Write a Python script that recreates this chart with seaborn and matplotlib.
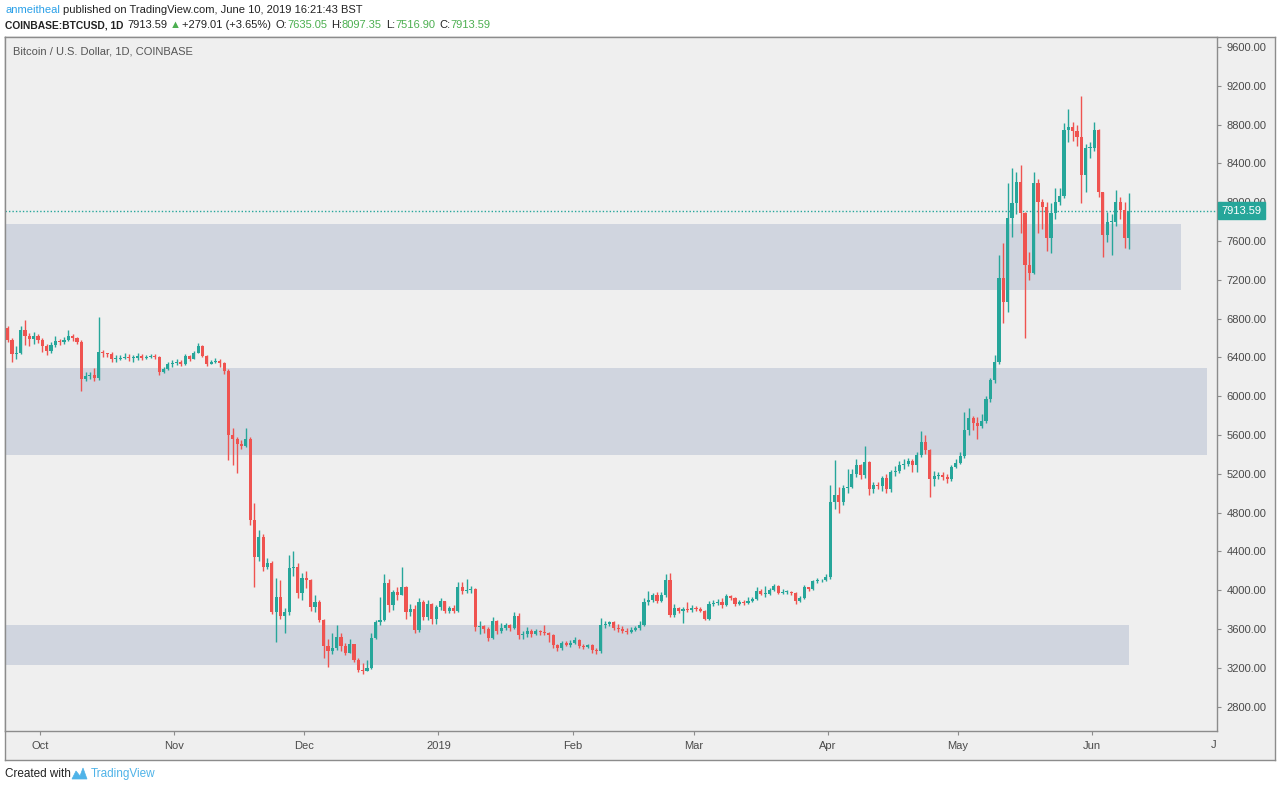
import matplotlib
matplotlib.use("Agg")
import matplotlib.pyplot as plt
import matplotlib.transforms as mtransforms
import numpy as np
import pandas as pd
import seaborn as sns

# COINBASE:BTCUSD daily candles, 23 Sep 2018 - 10 Jun 2019
first_open = 6710

sep_close = [6700, 6580, 6430, 6450, 6680, 6620, 6590, 6620]
sep_high = [6760, 6720, 6600, 6520, 6720, 6790, 6650, 6660]
sep_low = [6640, 6560, 6350, 6380, 6430, 6530, 6520, 6540]

oct_close = [6580, 6520, 6470, 6530, 6570, 6560, 6580, 6620, 6600, 6560, 6180, 6210, 6220, 6190, 6460, 6440,
             6430, 6380, 6380, 6390, 6400, 6390, 6390, 6410, 6390, 6400, 6410, 6400, 6250, 6280, 6330]
oct_high = [6640, 6600, 6540, 6560, 6620, 6590, 6610, 6680, 6640, 6610, 6580, 6250, 6250, 6290, 6820, 6480,
            6450, 6460, 6420, 6420, 6450, 6430, 6420, 6440, 6430, 6420, 6430, 6430, 6410, 6300, 6350]
oct_low = [6550, 6460, 6420, 6440, 6510, 6530, 6540, 6570, 6570, 6540, 6050, 6160, 6180, 6160, 6170, 6400,
           6400, 6350, 6350, 6370, 6380, 6360, 6350, 6370, 6370, 6380, 6390, 6380, 6220, 6240, 6270]

nov_close = [6340, 6350, 6330, 6410, 6380, 6450, 6520, 6410, 6330, 6350, 6360, 6340, 6260, 5600, 5560,
             5510, 5490, 5560, 4720, 4340, 4550, 4240, 4280, 3770, 3930, 3730, 3770, 4230, 4240, 3970]
nov_high = [6370, 6380, 6370, 6430, 6420, 6470, 6550, 6530, 6420, 6370, 6390, 6380, 6350, 6280, 5670,
            5580, 5550, 5670, 5580, 4900, 4620, 4580, 4330, 4300, 4130, 4100, 3820, 4360, 4400, 4280]
nov_low = [6300, 6320, 6310, 6320, 6360, 6380, 6450, 6400, 6310, 6330, 6340, 6300, 6230, 5340, 5290,
           5210, 5460, 5480, 4670, 4030, 4300, 4200, 4220, 3750, 3470, 3700, 3560, 3740, 4150, 3920]

dec_close = [4130, 4100, 3830, 3880, 3690, 3420, 3370, 3400, 3520, 3420, 3350, 3440, 3280, 3180, 3170, 3200,
             3510, 3670, 3690, 4070, 3850, 3980, 3950, 4030, 3780, 3810, 3590, 3880, 3720, 3860, 3700]
dec_high = [4180, 4200, 4110, 3950, 3900, 3700, 3500, 3560, 3640, 3560, 3460, 3500, 3450, 3300, 3250, 3280,
            3560, 3690, 3930, 4170, 4120, 4000, 4030, 4240, 4040, 3860, 3850, 3920, 3900, 3900, 3870]
dec_low = [3900, 4020, 3790, 3780, 3670, 3300, 3210, 3340, 3380, 3370, 3330, 3350, 3260, 3160, 3140, 3170,
           3190, 3500, 3640, 3680, 3780, 3800, 3900, 3950, 3700, 3730, 3560, 3570, 3690, 3690, 3650]

jan_close = [3830, 3890, 3790, 3820, 3790, 4030, 3990, 4000, 4010, 3620, 3630, 3600, 3510, 3680, 3580, 3610,
             3640, 3610, 3730, 3540, 3550, 3580, 3550, 3580, 3570, 3560, 3540, 3430, 3400, 3460, 3430]
jan_high = [3850, 3920, 3890, 3840, 3850, 4085, 4080, 4120, 4040, 4020, 3680, 3640, 3620, 3720, 3690, 3660,
            3660, 3650, 3770, 3760, 3580, 3620, 3600, 3600, 3590, 3640, 3570, 3550, 3440, 3480, 3480]
jan_low = [3650, 3800, 3760, 3760, 3760, 3770, 3960, 3970, 3970, 3580, 3550, 3560, 3480, 3500, 3550, 3560,
           3590, 3580, 3600, 3500, 3500, 3520, 3520, 3540, 3540, 3540, 3470, 3400, 3370, 3380, 3420]

feb_close = [3460, 3490, 3420, 3410, 3430, 3380, 3370, 3640, 3650, 3670, 3610, 3600, 3580, 3570, 3590, 3610,
             3640, 3880, 3900, 3950, 3890, 3950, 4100, 3740, 3820, 3790, 3810, 3800]
feb_high = [3490, 3520, 3500, 3440, 3450, 3450, 3400, 3710, 3680, 3680, 3680, 3650, 3630, 3610, 3620, 3630,
            3680, 3920, 3990, 3970, 3980, 3980, 4170, 4180, 3860, 3830, 3830, 3880]
feb_low = [3410, 3450, 3400, 3390, 3400, 3350, 3340, 3350, 3610, 3630, 3590, 3570, 3560, 3550, 3560, 3580,
           3590, 3630, 3850, 3880, 3870, 3880, 3930, 3720, 3720, 3760, 3660, 3770]

mar_close = [3820, 3810, 3790, 3700, 3860, 3870, 3880, 3850, 3940, 3920, 3860, 3880, 3870, 3890, 3910, 3990,
             3960, 3960, 4000, 4040, 3970, 3980, 3980, 3970, 3890, 3920, 4030, 4010, 4090, 4100, 4100]
mar_high = [3850, 3840, 3830, 3800, 3890, 3900, 3910, 3920, 3960, 3950, 3930, 3900, 3900, 3930, 3930, 4030,
            4010, 4040, 4020, 4060, 4050, 4010, 4000, 3990, 3980, 3940, 4050, 4030, 4100, 4130, 4120]
mar_low = [3780, 3790, 3770, 3690, 3690, 3840, 3850, 3820, 3840, 3900, 3840, 3850, 3850, 3860, 3880, 3900,
           3950, 3930, 3950, 3990, 3960, 3960, 3960, 3950, 3860, 3880, 3910, 3990, 4000, 4070, 4080]

apr_close = [4140, 4910, 4980, 4910, 5050, 5060, 5200, 5290, 5190, 5320, 5040, 5080, 5070, 5160, 5040,
             5220, 5230, 5290, 5300, 5330, 5290, 5390, 5530, 5440, 5150, 5180, 5190, 5170, 5150, 5270]
apr_high = [4170, 5080, 5340, 5060, 5080, 5250, 5250, 5350, 5300, 5490, 5330, 5120, 5120, 5180, 5200,
            5240, 5280, 5330, 5350, 5360, 5350, 5420, 5640, 5600, 5460, 5230, 5220, 5220, 5200, 5290]
apr_low = [4090, 4120, 4840, 4800, 4880, 5000, 5050, 5170, 5150, 5160, 4980, 5000, 5040, 5020, 5000,
           5010, 5180, 5210, 5250, 5280, 5220, 5220, 5370, 5400, 4960, 5070, 5150, 5140, 5100, 5130]

may_close = [5310, 5380, 5650, 5780, 5720, 5690, 5740, 5970, 6170, 6350, 7220, 6970, 7835, 7990, 8210, 7890,
             7350, 7270, 8200, 8000, 7950, 7630, 7890, 8000, 8060, 8740, 8770, 8730, 8670, 8280, 8560]
may_high = [5350, 5420, 5840, 5880, 5800, 5790, 5820, 6000, 6190, 6420, 7455, 7580, 8200, 8350, 8310, 8380,
            7900, 7490, 8310, 8240, 8030, 8000, 7990, 8150, 8150, 8820, 8960, 8830, 8800, 9095, 8600]
may_low = [5260, 5300, 5360, 5600, 5650, 5560, 5670, 5720, 5940, 6140, 6330, 6750, 6870, 7640, 7880, 7680,
           6600, 7200, 7260, 7680, 7720, 7500, 7480, 7830, 7970, 8040, 8620, 8630, 8580, 7990, 8100]

jun_close = [8560, 8740, 8110, 7660, 7800, 7800, 8000, 7920, 7635.05, 7913.59]
jun_high = [8620, 8830, 8750, 8110, 7900, 7880, 8130, 8050, 8000, 8097.35]
jun_low = [8460, 8530, 8050, 7435, 7590, 7455, 7750, 7830, 7530, 7516.90]

# shaded supply/demand zones: low, high, last day covered
zone_low = [7095, 5395, 3230]
zone_high = [7775, 6290, 3640]
zone_end = ["2019-06-22", "2019-06-28", "2019-06-10"]

month_labels = ["Oct", "Nov", "Dec", "2019", "Feb", "Mar", "Apr", "May", "Jun"]

UP = "#26a69a"
DOWN = "#ef5350"
BG = "#efefef"
ZONE = "#d0d5df"
FONT = ["Liberation Sans", "DejaVu Sans"]

closes = (sep_close + oct_close + nov_close + dec_close + jan_close + feb_close
          + mar_close + apr_close + may_close + jun_close)
highs = (sep_high + oct_high + nov_high + dec_high + jan_high + feb_high
         + mar_high + apr_high + may_high + jun_high)
lows = (sep_low + oct_low + nov_low + dec_low + jan_low + feb_low
        + mar_low + apr_low + may_low + jun_low)

origin = pd.Timestamp("2018-10-01")
df = pd.DataFrame({
    "date": pd.date_range("2018-09-23", "2019-06-10", freq="D"),
    "open": [first_open] + closes[:-1],
    "high": highs,
    "low": lows,
    "close": closes,
})
df["day"] = (df["date"] - origin).dt.days
df["up"] = df["close"] >= df["open"]
df["color"] = np.where(df["up"], UP, DOWN)
df["bottom"] = df[["open", "close"]].min(axis=1)
df["body"] = (df["close"] - df["open"]).abs().clip(lower=9)

sns.set_theme(style="white")
plt.rcParams["font.family"] = FONT

W, H = 1280, 790
fig = plt.figure(figsize=(W / 100, H / 100), dpi=100)
fig.patch.set_facecolor("white")


def px_rect(x0, y0, x1, y1):
    return [x0 / W, 1 - y1 / H, (x1 - x0) / W, (y1 - y0) / H]


# outer frame incl. price and time scales
frame = fig.add_axes(px_rect(5, 37, 1275, 760))
frame.set_facecolor(BG)
frame.set_xticks([])
frame.set_yticks([])
for s in frame.spines.values():
    s.set_color("#8c8c8c")
    s.set_linewidth(1)

ax = fig.add_axes(px_rect(5, 37, 1217, 731))
ax.set_facecolor(BG)
for s in ax.spines.values():
    s.set_color("#8c8c8c")
    s.set_linewidth(1)

# zones
for lo, hi, end in zip(zone_low, zone_high, zone_end):
    end_day = (pd.Timestamp(end) - origin).days
    ax.fill_between([-20, end_day], lo, hi, color=ZONE, lw=0, zorder=1)

# candles
ax.vlines(df["day"], df["low"], df["high"], colors=df["color"], lw=1, zorder=3)
ax.bar(df["day"], df["body"], bottom=df["bottom"], width=0.72, color=df["color"],
       lw=0, zorder=4)

last_close = closes[-1]
ax.axhline(last_close, color=UP, ls=(0, (1, 1.5)), lw=1, zorder=2)

ax.set_xlim(-7.62, 272.35)
ax.set_ylim(2548, 9703)

month_starts = pd.date_range("2018-10-01", "2019-06-01", freq="MS")
ax.set_xticks([(m - origin).days + 0.5 for m in month_starts])
ax.set_xticklabels(month_labels)
ax.text(272.2, -14 / 694, "J", transform=mtransforms.blended_transform_factory(ax.transData, ax.transAxes),
        ha="right", va="center", fontsize=8, color="#4a4a4a")

ax.yaxis.tick_right()
ax.set_yticks(np.arange(2800, 9601, 400))
ax.set_yticklabels([f"{v:.2f}" for v in np.arange(2800, 9601, 400)])
ax.tick_params(axis="y", direction="out", length=3, width=0.8, pad=4, colors="#8c8c8c",
               labelcolor="#4a4a4a", labelsize=8, right=True, left=False)
ax.tick_params(axis="x", direction="out", length=3, width=0.8, pad=4, colors="#8c8c8c",
               labelcolor="#4a4a4a", labelsize=8, bottom=True)
ax.set_xlabel("")
ax.set_ylabel("")

trans = mtransforms.blended_transform_factory(ax.transAxes, ax.transData)
ax.text(1.0035, last_close, f"{last_close:.2f}", transform=trans, ha="left", va="center",
        fontsize=8, color="white", zorder=10, clip_on=False,
        bbox=dict(boxstyle="square,pad=0.3", fc=UP, ec=UP))

ax.text(8 / 1212, 1 - 15 / 694, "Bitcoin / U.S. Dollar, 1D, COINBASE", transform=ax.transAxes,
        ha="left", va="center", fontsize=8, color="#555555")

# header and footer lines made of coloured pieces
renderer = fig.canvas.get_renderer()


def write_line(parts, x_px, y_px, size):
    x = x_px / W
    for txt, color, weight, gap in parts:
        fs = size - 0.6 if weight == "bold" else size
        t = fig.text(x, 1 - y_px / H, txt, color=color, fontsize=fs, fontweight=weight,
                     ha="left", va="center")
        x += (t.get_window_extent(renderer=renderer).width + gap) / W


GREEN = "#4caf50"
write_line([
    ("anmeitheal", "#2aa0e8", "normal", 3),
    ("published on TradingView.com, June 10, 2019 16:21:43 BST", "#222222", "normal", 0),
], 5, 10, 8)
write_line([
    ("COINBASE:BTCUSD, 1D", "#222222", "bold", 4),
    ("7913.59", "#222222", "normal", 2),
    ("▲", GREEN, "normal", 2),
    ("+279.01 (+3.65%)", "#222222", "normal", 4),
    ("O:", "#222222", "normal", 0),
    ("7635.05", GREEN, "normal", 4),
    ("H:", "#222222", "normal", 0),
    ("8097.35", GREEN, "normal", 4),
    ("L:", "#222222", "normal", 0),
    ("7516.90", GREEN, "normal", 4),
    ("C:", "#222222", "normal", 0),
    ("7913.59", GREEN, "normal", 0),
], 5, 25, 8)
write_line([
    ("Created with", "#222222", "normal", 20),
    ("TradingView", "#4fb3e8", "normal", 0),
], 5, 774, 8.5)

# small logo next to TradingView
lx = np.array([72, 76, 80, 83, 87]) / W
ly = 1 - np.array([779, 771, 776, 768, 779]) / H
fig.add_artist(plt.Polygon(np.column_stack([lx, ly]), closed=True, transform=fig.transFigure,
                           fc="#4fb3e8", ec="#4fb3e8", lw=0.5))

fig.savefig("out.png", dpi=100)
